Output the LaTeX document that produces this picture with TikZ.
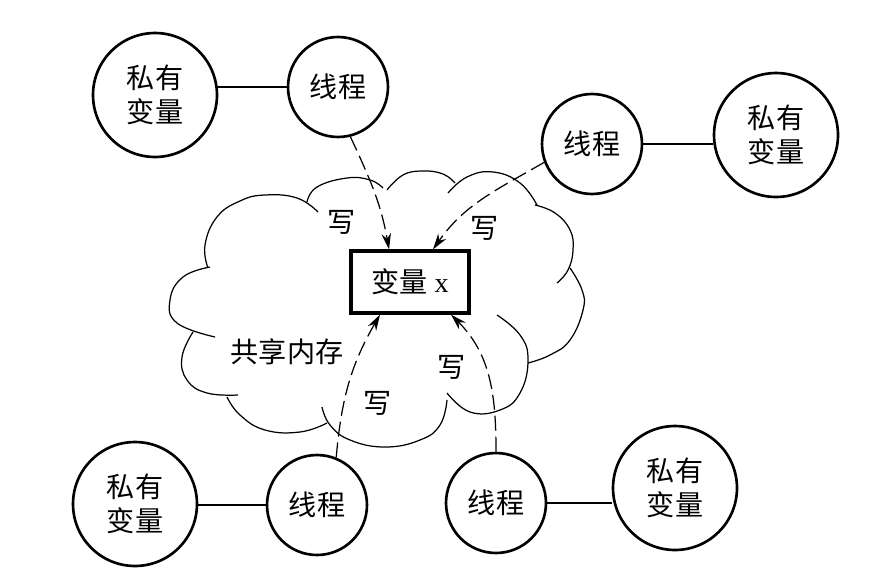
\documentclass[tikz,border=0pt]{standalone}
\usepackage{fontspec}
\setmainfont{Liberation Serif}
\newfontfamily\cjk{Noto Sans CJK SC}
\usetikzlibrary{arrows.meta,calc}

\begin{document}
\begin{tikzpicture}[x=0.02cm, y=0.02cm,
  pvt/.style={draw, circle, line width=1.5pt, minimum size=2.48cm, inner sep=0pt, align=center, font=\cjk\fontsize{16}{19}\selectfont},
  thd/.style={draw, circle, line width=1.5pt, minimum size=2cm, inner sep=0pt, font=\cjk\fontsize{16}{19}\selectfont},
  vbox/.style={draw, line width=1.8pt, minimum width=2.36cm, minimum height=1.24cm, font=\fontsize{16}{19}\selectfont},
  wrt/.style={-{Stealth[length=3.2mm, width=1.9mm]}, line width=0.7pt, dash pattern=on 3mm off 1.2mm},
  link/.style={line width=0.8pt},
  cld/.style={line width=0.7pt, smooth, tension=0.75},
  lab/.style={font=\cjk\fontsize{16}{19}\selectfont}]
\useasboundingbox (0,0) rectangle (878,583);
% shared memory cloud
\draw[cld] plot coordinates {(208,315) (205,338) (217,366) (240,382) (265,388) (297,385) (318,371)};
\draw[cld] plot coordinates {(307,381) (317,396) (347,405) (370,403) (383,395)};
\draw[cld] plot coordinates {(387,393) (403,408) (423,412) (443,409) (455,400)};
\draw[cld] plot coordinates {(448,390) (467,406) (493,411) (520,400) (537,378)};
\draw[cld] plot coordinates {(535,378) (555,370) (570,353) (573,333) (568,313) (557,300)};
\draw[cld] plot coordinates {(570,315) (582,293) (583,273) (570,243) (550,228) (528,220)};
\draw[cld] plot coordinates {(497,268) (520,248) (528,223) (520,190) (500,173) (470,171) (447,190)};
\draw[cld] plot coordinates {(447,183) (440,158) (420,143) (385,136) (350,143) (330,158) (322,176)};
\draw[cld] plot coordinates {(327,160) (300,151) (265,153) (240,168) (227,186)};
\draw[cld] plot coordinates {(193,251) (182,226) (187,203) (207,190) (238,188)};
\draw[cld] plot coordinates {(215,246) (177,260) (170,283) (183,306) (210,316)};
\node[lab] (mem) at (287,231) {共享内存};
\node[vbox] (vx) at (410,301) {{\cjk 变量} x};
% threads and their private variables
\node[pvt] (p1) at (155,488) {私有\\变量};
\node[thd] (t1) at (338,496) {线程};
\node[thd] (t2) at (592,439) {线程};
\node[pvt] (p2) at (776,448) {私有\\变量};
\node[pvt] (p3) at (135,79) {私有\\变量};
\node[thd] (t3) at (317,78) {线程};
\node[thd] (t4) at (496,80) {线程};
\node[pvt] (p4) at (675,95) {私有\\变量};
\draw[link] (t1.west) -- (t1.west -| p1.east);
\draw[link] (t2.east) -- (t2.east -| p2.west);
\draw[link] (t3.west) -- (t3.west -| p3.east);
\draw[link] (t4.east) -- (t4.east -| p4.west);
% writes
\draw[wrt] (t1.-76) to[out=-65, in=100] ([xshift=-0.42cm]vx.north);
\draw[wrt] (t2.201) to[out=210, in=55] ([xshift=0.46cm]vx.north);
\draw[wrt] (t3.68) to[out=85, in=240] ([xshift=-0.6cm]vx.south);
\draw[wrt] (t4.north) to[out=90, in=-45] ([xshift=0.82cm]vx.south);
\node[lab] (w1) at (342,361) {写};
\node[lab] (w2) at (485,355) {写};
\node[lab] (w3) at (452,216) {写};
\node[lab] (w4) at (378,180) {写};
\end{tikzpicture}
\end{document}
